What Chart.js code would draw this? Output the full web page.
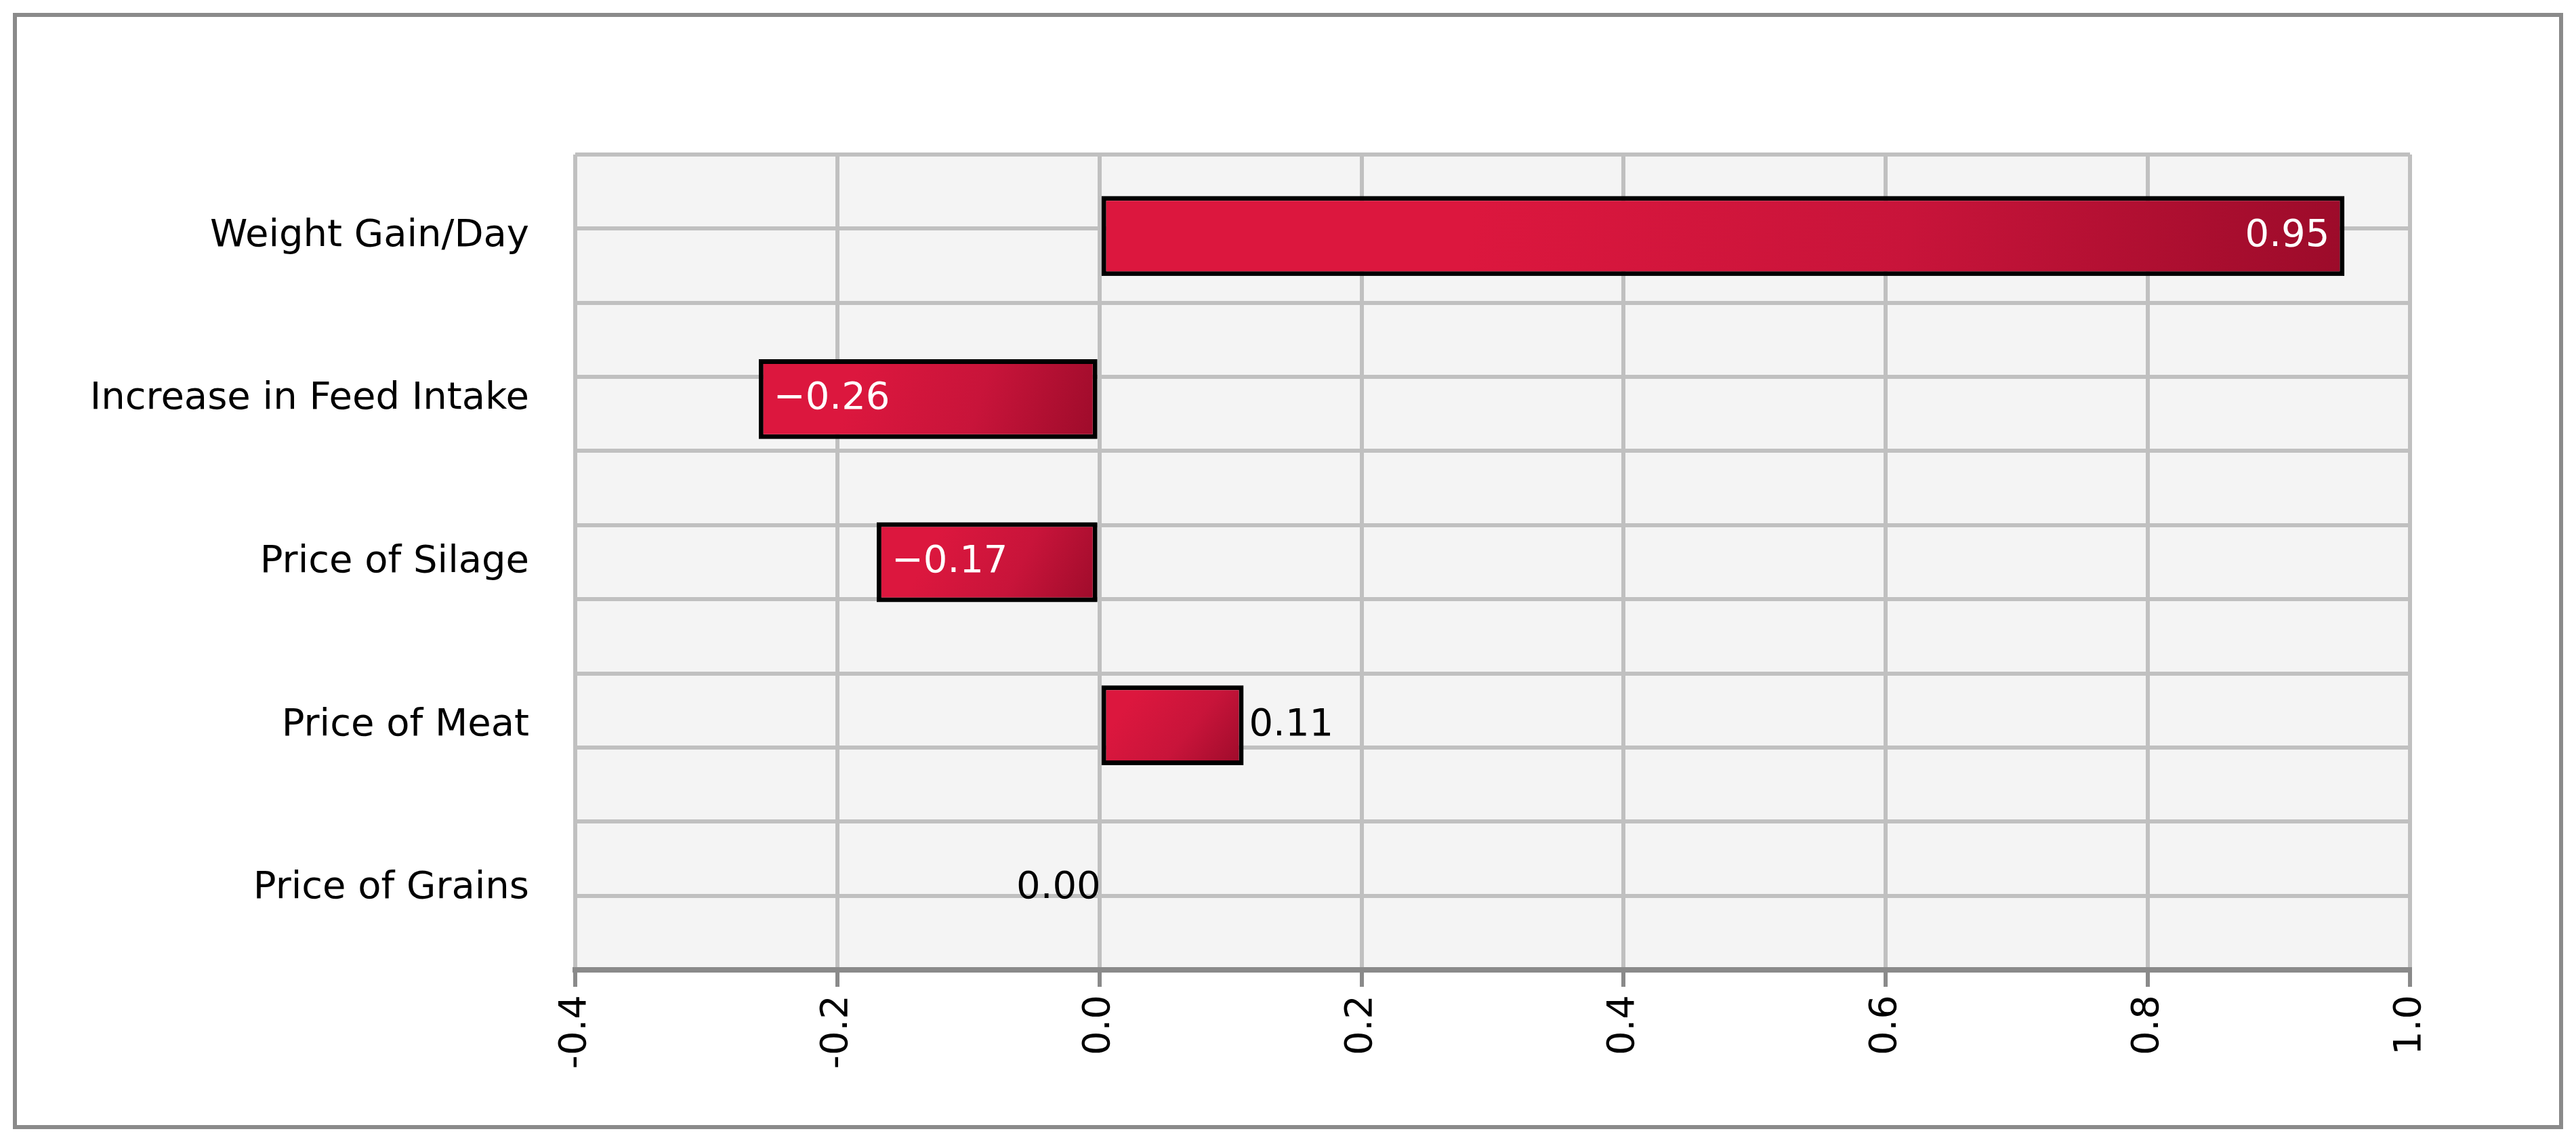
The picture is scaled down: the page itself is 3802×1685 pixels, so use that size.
<!DOCTYPE html>
<html><head><meta charset="utf-8">
<script src="https://cdn.jsdelivr.net/npm/chart.js@4"></script>
<style>html,body{margin:0;padding:0;background:#fff}canvas{display:block}</style>
</head><body>
<div style="width:3802px;height:1685px"><canvas id="c"></canvas></div>
<script>
const categories = ["Weight Gain/Day","Increase in Feed Intake","Price of Silage","Price of Meat","Price of Grains"];
const values = [0.95, -0.26, -0.17, 0.11, 0.00];
const xTicks = [-0.4,-0.2,0.0,0.2,0.4,0.6,0.8,1.0];
const FONT = "'DejaVu Sans', Verdana, sans-serif";
const PL=19, PT=228, PR=245, PB=19;

const frame = {
  id:'frame',
  beforeDraw(ch){
    const c=ch.ctx, a=ch.chartArea;
    c.save();
    c.fillStyle='#fff'; c.fillRect(0,0,ch.width,ch.height);
    c.fillStyle='#f4f4f4'; c.fillRect(a.left,a.top,a.right-a.left,a.bottom-a.top);
    c.strokeStyle='#8a8a8a'; c.lineWidth=6;
    c.strokeRect(22,22,ch.width-44,ch.height-44);
    c.restore();
  },
  afterDatasetsDraw(ch){
    const c=ch.ctx, meta=ch.getDatasetMeta(0);
    c.save();
    c.font="56px "+FONT; c.textBaseline='middle';
    meta.data.forEach((b,i)=>{
      const v=values[i], txt=(v<0?'\u2212':'')+Math.abs(v).toFixed(2);
      const big=Math.abs(v)>=0.15;
      c.fillStyle=big?'#fff':'#000';
      if(v>0){ if(big){c.textAlign='right';c.fillText(txt,b.x-22,b.y);} else {c.textAlign='left';c.fillText(txt,b.x+8,b.y);} }
      else if(v<0){ if(big){c.textAlign='left';c.fillText(txt,b.x+22,b.y);} else {c.textAlign='right';c.fillText(txt,b.x-8,b.y);} }
      else { c.textAlign='right'; c.fillText(txt,b.x+2,b.y); }
    });
    c.restore();
  }
};

function barFill(ctx){
  const ch=ctx.chart;
  if(!ch.chartArea || !ch.scales.x || !ch.scales.y || ctx.dataIndex===undefined) return '#d01538';
  const v=values[ctx.dataIndex];
  const xs=ch.scales.x, ys=ch.scales.y;
  const xa=xs.getPixelForValue(v), xb=xs.getPixelForValue(0);
  const yc=ys.getPixelForValue(ctx.dataIndex);
  const h=(ys.height/categories.length)*0.49;
  const x0=Math.min(xa,xb), x1=Math.max(xa,xb);
  const nums=[x0,x1,yc,h];
  if(!nums.every(Number.isFinite)) return '#d01538';
  const w=Math.max(x1-x0,1);
  const g=ch.ctx.createLinearGradient(x0+w*0.3,yc-h/2,x1,yc+h/2);
  g.addColorStop(0,'#dc173e'); g.addColorStop(0.5,'#c8143a'); g.addColorStop(1,'#9c0b2a');
  return g;
}

new Chart(document.getElementById('c'),{
  type:'bar',
  data:{labels:categories,datasets:[{
    data:values,
    backgroundColor:barFill,
    borderColor:'#000', borderWidth:7, borderSkipped:false,
    barPercentage:0.49, categoryPercentage:1
  }]},
  options:{
    indexAxis:'y', responsive:true, maintainAspectRatio:false, animation:false,
    devicePixelRatio:1,
    layout:{padding:{left:PL,top:PT,right:PR,bottom:PB}},
    plugins:{legend:{display:false},tooltip:{enabled:false}},
    scales:{
      x:{type:'linear',min:-0.4,max:1.0,
        afterBuildTicks(s){s.ticks=xTicks.map(v=>({value:v}));},
        ticks:{callback:v=>Number(v).toFixed(1),font:{size:56,family:FONT},color:'#000',
          minRotation:90,maxRotation:90,padding:12},
        grid:{color:'#c0c0c0',lineWidth:6,tickColor:'#8a8a8a',tickLength:25,drawTicks:true},
        border:{color:'#8a8a8a',width:8},
        afterFit(s){s.height=1685-1431-PB;}
      },
      y:{type:'category',
        ticks:{font:{size:56,family:FONT},color:'#000',padding:60},
        grid:{display:false},border:{display:false},
        afterFit(s){s.width=849-PL;}
      },
      y2:{type:'linear',min:0,max:10,position:'left',display:true,
        afterBuildTicks(s){s.ticks=[0,1,2,3,4,5,6,7,8,9,10].map(v=>({value:v}));},
        ticks:{display:false},
        grid:{color:'#c0c0c0',lineWidth:6,drawTicks:false},
        border:{display:false},
        afterFit(s){s.width=0;}
      }
    }
  },
  plugins:[frame]
});
</script>
</body></html>
